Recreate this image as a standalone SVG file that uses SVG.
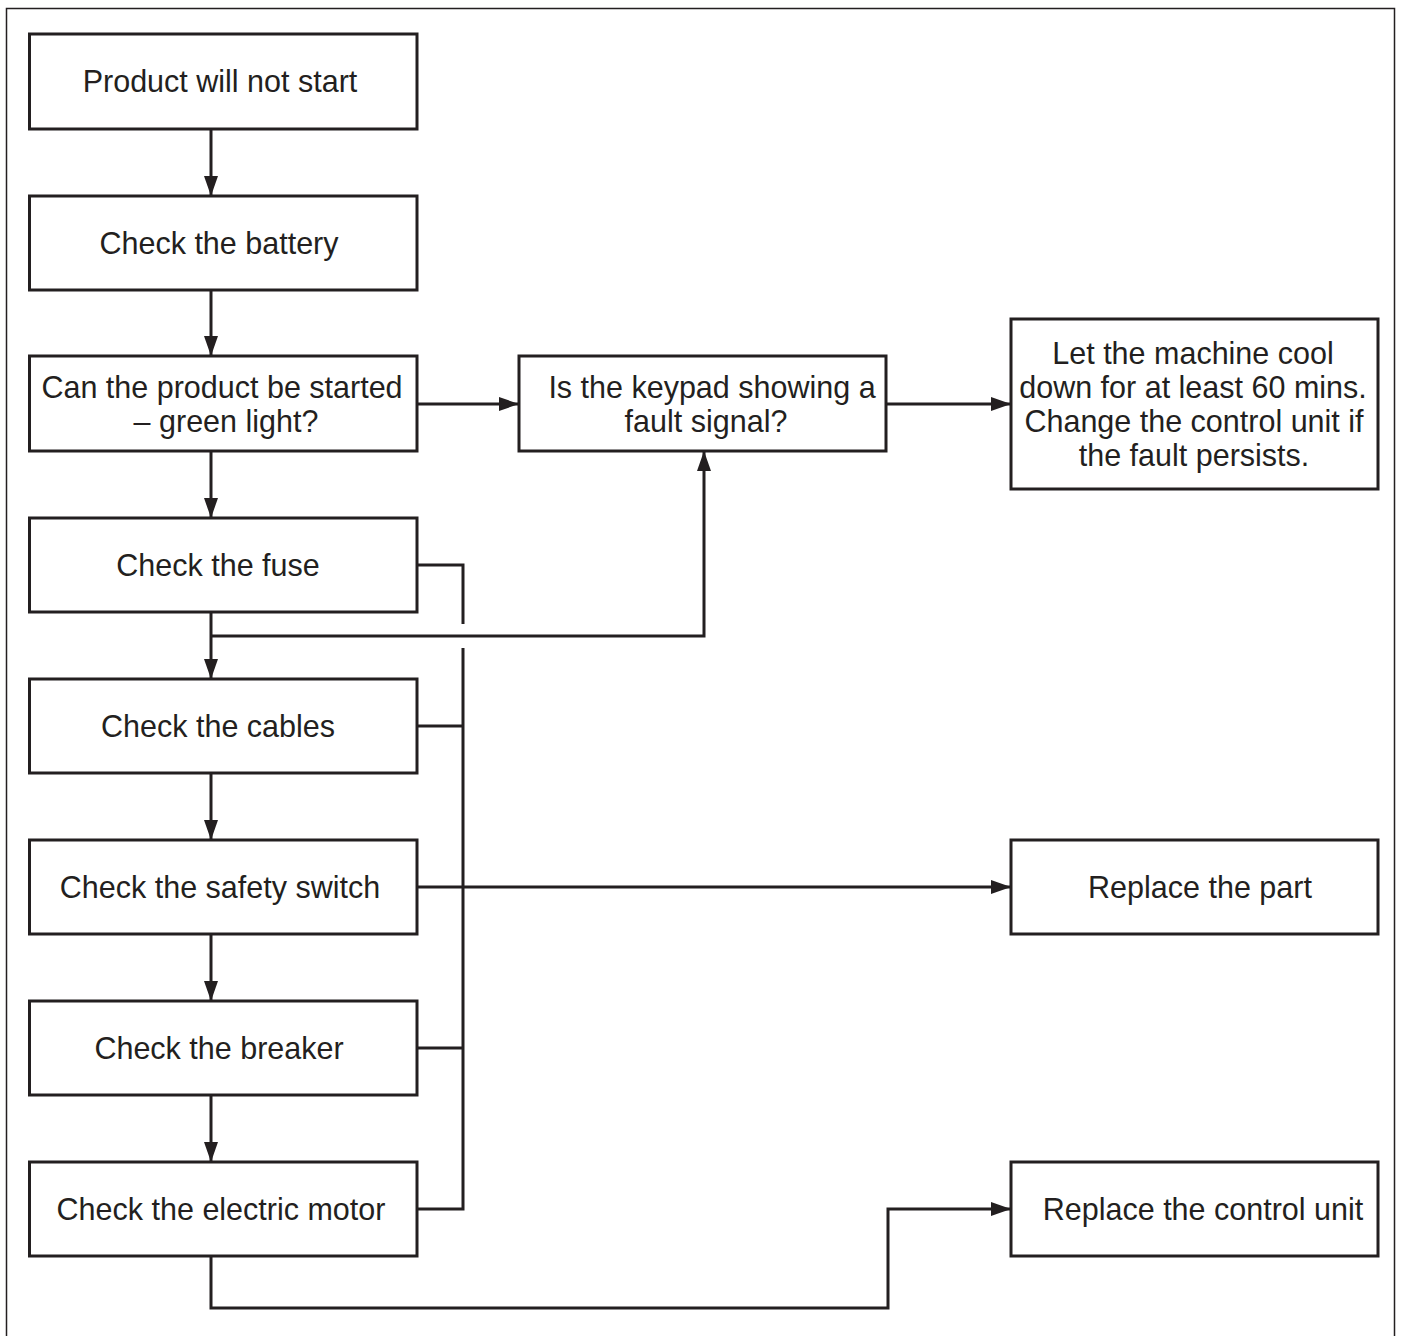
<svg xmlns="http://www.w3.org/2000/svg" width="1405" height="1336" viewBox="0 0 1405 1336">
<style>
.box{fill:#fff;stroke:#231f20;stroke-width:3}
.t{font-family:"Liberation Sans",Arial,sans-serif;font-size:30.5px;fill:#231f20;text-anchor:middle}
.c{fill:none;stroke:#231f20;stroke-width:3}
</style>
<defs>
<marker id="a" viewBox="0 0 20 14" refX="20" refY="7" markerWidth="20" markerHeight="14" markerUnits="userSpaceOnUse" orient="auto">
<path d="M0,0 L20,7 L0,14 z" fill="#231f20"/>
</marker>
</defs>
<rect width="1405" height="1336" fill="#fff"/>
<rect x="6.5" y="8.5" width="1388" height="1340" fill="none" stroke="#231f20" stroke-width="1.5"/>
<g id="connectors">
<path class="c" d="M211,129 V196" marker-end="url(#a)"/>
<path class="c" d="M211,290 V356" marker-end="url(#a)"/>
<path class="c" d="M211,451 V518" marker-end="url(#a)"/>
<path class="c" d="M211,612 V679" marker-end="url(#a)"/>
<path class="c" d="M211,773 V840" marker-end="url(#a)"/>
<path class="c" d="M211,934 V1001" marker-end="url(#a)"/>
<path class="c" d="M211,1095 V1162" marker-end="url(#a)"/>
<path class="c" d="M417,404 H519" marker-end="url(#a)"/>
<path class="c" d="M886,404 H1011" marker-end="url(#a)"/>
<path class="c" d="M211,636 H704 V451" marker-end="url(#a)"/>
<path class="c" d="M417,565 H463 V624"/>
<path class="c" d="M463,648 V1209 H417"/>
<path class="c" d="M417,726 H463"/>
<path class="c" d="M417,1048 H463"/>
<path class="c" d="M417,887 H1011" marker-end="url(#a)"/>
<path class="c" d="M211,1256 V1308 H888 V1209 H1011" marker-end="url(#a)"/>
</g>
<g id="n1"><rect class="box" x="29.5" y="34" width="387.5" height="95"/><text class="t" x="220" y="92">Product will not start</text></g>
<g id="n2"><rect class="box" x="29.5" y="196" width="387.5" height="94"/><text class="t" x="219" y="254">Check the battery</text></g>
<g id="n3"><rect class="box" x="29.5" y="356" width="387.5" height="95"/><text class="t" x="222" y="398">Can the product be started</text><text class="t" x="226" y="432">– green light?</text></g>
<g id="n4"><rect class="box" x="29.5" y="518" width="387.5" height="94"/><text class="t" x="218" y="576">Check the fuse</text></g>
<g id="n5"><rect class="box" x="29.5" y="679" width="387.5" height="94"/><text class="t" x="218" y="737">Check the cables</text></g>
<g id="n6"><rect class="box" x="29.5" y="840" width="387.5" height="94"/><text class="t" x="220" y="898">Check the safety switch</text></g>
<g id="n7"><rect class="box" x="29.5" y="1001" width="387.5" height="94"/><text class="t" x="219" y="1059">Check the breaker</text></g>
<g id="n8"><rect class="box" x="29.5" y="1162" width="387.5" height="94"/><text class="t" x="221" y="1220">Check the electric motor</text></g>
<g id="n9"><rect class="box" x="519" y="356" width="367" height="95"/><text class="t" x="712" y="398">Is the keypad showing a</text><text class="t" x="706" y="432">fault signal?</text></g>
<g id="n10"><rect class="box" x="1011" y="319" width="367" height="170"/><text class="t" x="1193" y="364">Let the machine cool</text><text class="t" x="1193" y="398">down for at least 60 mins.</text><text class="t" x="1194" y="432">Change the control unit if</text><text class="t" x="1194" y="466">the fault persists.</text></g>
<g id="n11"><rect class="box" x="1011" y="840" width="367" height="94"/><text class="t" x="1200" y="898">Replace the part</text></g>
<g id="n12"><rect class="box" x="1011" y="1162" width="367" height="94"/><text class="t" x="1203" y="1220">Replace the control unit</text></g>
</svg>
